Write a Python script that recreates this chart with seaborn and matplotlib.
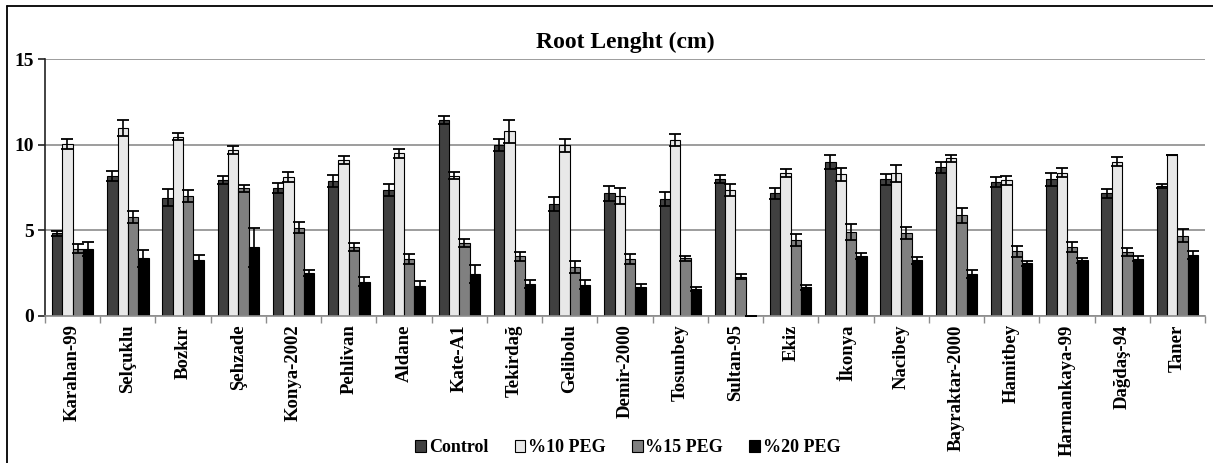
import numpy as np
import pandas as pd
import matplotlib
matplotlib.use("Agg")
import matplotlib.pyplot as plt
from matplotlib.patches import Patch
from matplotlib.lines import Line2D
import seaborn as sns

cultivars = ["Karahan-99", "Selçuklu", "Bozkır", "Şehzade", "Konya-2002", "Pehlivan",
             "Aldane", "Kate-A1", "Tekirdağ", "Gelibolu", "Demir-2000", "Tosunbey",
             "Sultan-95", "Ekiz", "İkonya", "Nacibey", "Bayraktar-2000", "Hamitbey",
             "Harmankaya-99", "Dağdaş-94", "Taner"]
treatments = ["Control", "%10 PEG", "%15 PEG", "%20 PEG"]

control = [4.83, 8.18, 6.92, 7.95, 7.50, 7.89, 7.36, 11.45, 9.97, 6.55, 7.17, 6.84,
           8.01, 7.17, 9.00, 7.99, 8.69, 7.81, 7.99, 7.17, 7.60]
peg10 = [10.05, 10.99, 10.48, 9.70, 8.10, 9.12, 9.51, 8.20, 10.79, 9.97, 7.01, 10.27,
         7.36, 8.34, 8.28, 8.34, 9.21, 7.93, 8.38, 9.02, 9.39]
peg15 = [3.93, 5.77, 7.01, 7.46, 5.16, 4.05, 3.31, 4.25, 3.49, 2.88, 3.31, 3.37,
         2.30, 4.44, 4.91, 4.83, 5.88, 3.78, 4.05, 3.74, 4.69]
peg20 = [3.90, 3.37, 3.27, 4.01, 2.49, 2.00, 1.77, 2.44, 1.87, 1.83, 1.68, 1.60,
         0.00, 1.68, 3.51, 3.25, 2.45, 3.08, 3.25, 3.35, 3.56]

err_control = [0.15, 0.30, 0.50, 0.21, 0.29, 0.37, 0.33, 0.25, 0.35, 0.43, 0.43, 0.43,
               0.21, 0.33, 0.39, 0.31, 0.33, 0.29, 0.39, 0.27, 0.12]
err_peg10 = [0.27, 0.45, 0.20, 0.21, 0.29, 0.25, 0.27, 0.19, 0.68, 0.37, 0.45, 0.35,
             0.33, 0.23, 0.39, 0.49, 0.21, 0.25, 0.27, 0.27, 0.00]
err_peg15 = [0.27, 0.35, 0.37, 0.20, 0.31, 0.23, 0.29, 0.23, 0.25, 0.35, 0.29, 0.16,
             0.14, 0.35, 0.45, 0.35, 0.43, 0.31, 0.29, 0.25, 0.37]
err_peg20 = [0.40, 0.50, 0.31, 1.15, 0.18, 0.25, 0.29, 0.53, 0.23, 0.25, 0.18, 0.12,
             0.00, 0.14, 0.16, 0.21, 0.21, 0.16, 0.16, 0.16, 0.25]

colors = ["#404040", "#e8e8e8", "#808080", "#000000"]

means = [control, peg10, peg15, peg20]
errs = [err_control, err_peg10, err_peg15, err_peg20]
rows = []
for t, m, e in zip(treatments, means, errs):
    for c, v, s in zip(cultivars, m, e):
        rows.append({"Cultivar": c, "Treatment": t, "Value": v, "Err": s})
df = pd.DataFrame(rows)

sns.set_style("white")
plt.rcParams["font.family"] = ["Liberation Serif", "DejaVu Serif"]
plt.rcParams["font.weight"] = "bold"
plt.rcParams["text.color"] = "black"

fig = plt.figure(figsize=(12.13, 4.63), dpi=100)
ax = fig.add_axes([45 / 1213, 1 - 316 / 463, 1160 / 1213, (316 - 59.3) / 463])

sns.barplot(data=df, x="Cultivar", y="Value", hue="Treatment", order=cultivars,
            hue_order=treatments, palette=colors, width=0.75, errorbar=None,
            edgecolor="black", linewidth=0.8, saturation=1, legend=False, ax=ax)

# error bars at the centres of the bars seaborn drew
for container, t in zip(ax.containers, treatments):
    sub = df[df["Treatment"] == t].set_index("Cultivar").loc[cultivars]
    xs = [p.get_x() + p.get_width() / 2 for p in container.patches]
    ys = [p.get_height() for p in container.patches]
    ax.errorbar(xs, ys, yerr=sub["Err"].values, fmt="none", ecolor="black",
                elinewidth=1.2, capsize=4.3, capthick=1.3, zorder=5)

ax.set_xlim(-0.5, len(cultivars) - 0.5)
ax.set_ylim(0, 15)
ax.set_yticks([0, 5, 10, 15])
ax.yaxis.grid(True, color="#8c8c8c", linewidth=1.2)
ax.set_axisbelow(True)
for s in ["top", "right"]:
    ax.spines[s].set_visible(False)
ax.spines["left"].set_color("#222222")
ax.spines["left"].set_linewidth(1.2)
ax.spines["bottom"].set_color("#8c8c8c")
ax.spines["bottom"].set_linewidth(1.2)

ax.tick_params(axis="y", which="major", direction="out", length=5, width=1.2,
               color="#222222", labelsize=14, pad=3, left=True, labelcolor="black")
ax.set_xticks(np.arange(len(cultivars)))
ax.set_xticklabels(cultivars, rotation=90, fontsize=13.5, fontweight="bold", color="black")
ax.tick_params(axis="x", which="major", length=0, pad=6)
ax.set_xticks(np.arange(len(cultivars) + 1) - 0.5, minor=True)
ax.tick_params(axis="x", which="minor", direction="out", length=5, width=1,
               color="#8c8c8c", bottom=True)
for lab in ax.get_yticklabels():
    lab.set_fontweight("bold")
ax.set_xlabel("")
ax.set_ylabel("")

fig.text(0.5155, 1 - 42 / 463, "Root Lenght (cm)", ha="center", va="center",
         fontsize=17, fontweight="bold", color="black")

handles = [Patch(facecolor=c, edgecolor="black", linewidth=0.8) for c in colors]
fig.legend(handles, treatments, loc="center", bbox_to_anchor=(628 / 1213, 1 - 448 / 463),
           ncol=4, frameon=False, handlelength=0.6, handleheight=0.6,
           handletextpad=0.15, columnspacing=1.45, prop={"weight": "bold", "size": 13})

# outer chart frame (left and top edges visible)
fig.add_artist(Line2D([7 / 1213, 7 / 1213], [0, 1 - 6 / 463], transform=fig.transFigure,
                      color="black", linewidth=1.3))
fig.add_artist(Line2D([7 / 1213, 1], [1 - 6 / 463, 1 - 6 / 463], transform=fig.transFigure,
                      color="black", linewidth=1.3))

fig.savefig("out.png", dpi=100)
